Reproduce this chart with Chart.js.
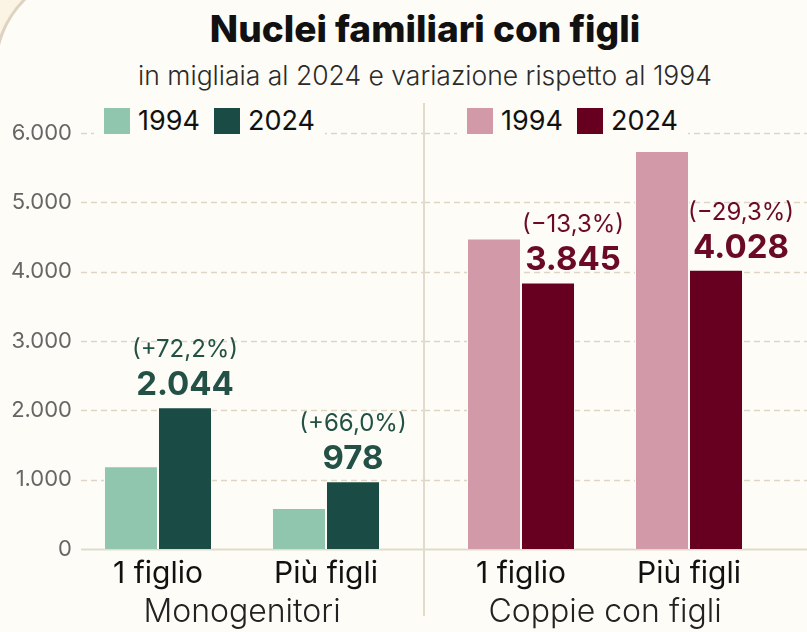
<!DOCTYPE html>
<html>
<head>
<meta charset="utf-8">
<script src="https://cdn.jsdelivr.net/npm/chart.js@4.4.1/dist/chart.umd.min.js"></script>
<style>
  body { margin: 0; width: 807px; height: 632px; overflow: hidden; position: relative; background: #fbf3e3; font-family: Inter, sans-serif; }
  #cornice { position: absolute; left: -6px; top: -30px; width: 900px; height: 700px; box-sizing: border-box; border: 3px solid #ddd3c0; border-radius: 99px 0 0 40px; background: #fdfcf7; }
  #titolo { position: absolute; left: 0; top: 6px; width: 850px; text-align: center; font-size: 37px; font-weight: 800; color: #111; }
  #sottotitolo { position: absolute; left: 0; top: 59px; width: 850px; text-align: center; font-size: 26.5px; font-weight: 300; color: #2a2a2a; }
  canvas { position: absolute; top: 0; }
  #sinistra { left: 0; }
  #destra { left: 424px; }
  #separatore { position: absolute; left: 423px; top: 103px; width: 2px; height: 513px; background: #e2dbcb; }
  .legenda { position: absolute; top: 104px; padding: 0 10px; background: #fdfcf7; display: flex; align-items: center; font-size: 27px; color: #111; }
  .legenda span.q { display: inline-block; width: 26px; height: 26px; margin-right: 8px; }
  .legenda span.t { margin-right: 14px; }
  .legenda span.t:last-child { margin-right: 0; }
</style>
</head>
<body>
<div id="cornice"></div>
<div id="titolo">Nuclei familiari con figli</div>
<div id="sottotitolo">in migliaia al 2024 e variazione rispetto al 1994</div>
<canvas id="sinistra" width="424" height="632"></canvas>
<canvas id="destra" width="383" height="632"></canvas>
<div id="separatore"></div>
<div class="legenda" id="legSinistra" style="left:94px"></div>
<div class="legenda" id="legDestra" style="left:457px"></div>
<script>
const categorie = ['1 figlio', 'Più figli'];
const anni = ['1994', '2024'];
const mono1994 = [1195, 591];
const mono2024 = [2044, 978];
const monoVariazione = ['(+72,2%)', '(+66,0%)'];
const coppie1994 = [4480, 5740];
const coppie2024 = [3845, 4028];
const coppieVariazione = ['(\u221213,3%)', '(\u221229,3%)'];
const yMax = 6000;
const yPasso = 1000;

function formatta(v) {
    return String(v).replace(/\B(?=(\d{3})+(?!\d))/g, '.');
}

const griglia = {
    id: 'griglia',
    beforeDatasetsDraw(chart, args, opts) {
        const ctx = chart.ctx;
        const y = chart.scales.y;
        ctx.save();
        y.ticks.forEach(function (t) {
            const py = Math.round(y.getPixelForValue(t.value)) + 0.5;
            ctx.beginPath();
            if (t.value === 0) {
                ctx.setLineDash([]);
                ctx.lineWidth = 2;
                ctx.strokeStyle = '#e2dbcb';
            } else {
                ctx.setLineDash([6, 4]);
                ctx.lineWidth = 1.5;
                ctx.strokeStyle = '#ddd6c5';
            }
            ctx.moveTo(opts.da, py);
            ctx.lineTo(chart.width, py);
            ctx.stroke();
        });
        ctx.restore();
    }
};

// valore in grassetto e variazione sopra la barra del 2024
const etichette = {
    id: 'etichette',
    afterDatasetsDraw(chart, args, opts) {
        const ctx = chart.ctx;
        const meta = chart.getDatasetMeta(1);
        const valori = chart.data.datasets[1].data;
        ctx.save();
        ctx.fillStyle = opts.colore;
        ctx.textAlign = 'center';
        ctx.textBaseline = 'alphabetic';
        meta.data.forEach(function (bar, i) {
            const x = bar.x + opts.dx;
            ctx.font = '700 33px Inter';
            ctx.fillText(formatta(valori[i]), x, bar.y - 12);
            ctx.font = '400 24px Inter';
            ctx.fillText(opts.variazioni[i], x, bar.y - 50);
        });
        ctx.restore();
    }
};

function creaGrafico(id, titoloAsse, dati94, dati24, colori, coloreTesto, variazioni, dx, conAsse, padding, grigliaDa) {
    const ctx = document.getElementById(id);
    return new Chart(ctx, {
        type: 'bar',
        data: {
            labels: categorie,
            datasets: [{
                label: anni[0],
                data: dati94,
                backgroundColor: colori[0],
                borderColor: '#fdfcf7',
                borderWidth: 1,
                barPercentage: 1,
                categoryPercentage: 0.643
            }, {
                label: anni[1],
                data: dati24,
                backgroundColor: colori[1],
                borderColor: '#fdfcf7',
                borderWidth: 1,
                barPercentage: 1,
                categoryPercentage: 0.643
            }]
        },
        options: {
            responsive: false,
            animation: false,
            devicePixelRatio: 1,
            layout: { padding: padding },
            plugins: {
                legend: { display: false },
                tooltip: { enabled: false },
                griglia: { da: grigliaDa },
                etichette: { colore: coloreTesto, variazioni: variazioni, dx: dx }
            },
            scales: {
                y: {
                    display: conAsse,
                    min: 0,
                    max: yMax,
                    ticks: {
                        stepSize: yPasso,
                        padding: 2,
                        color: '#666',
                        font: { family: 'Inter', size: 22 },
                        callback: function (v) { return formatta(v); }
                    },
                    grid: { display: false, drawTicks: false },
                    border: { display: false },
                    afterFit: function (s) { s.width = conAsse ? 74 : 0; }
                },
                x: {
                    grid: { display: false, drawTicks: false },
                    border: { display: false },
                    ticks: {
                        padding: 7,
                        color: '#111',
                        font: { family: 'Inter', size: 30 }
                    },
                    title: {
                        display: true,
                        text: titoloAsse,
                        color: '#222',
                        font: { family: 'Inter', size: 32, weight: 300 },
                        padding: { top: 0, bottom: 0 }
                    },
                    afterFit: function (s) { s.height = 83; }
                }
            }
        },
        plugins: [griglia, etichette]
    });
}

function legenda(chart, id) {
    const box = document.getElementById(id);
    chart.data.datasets.forEach(function (ds) {
        const q = document.createElement('span');
        q.className = 'q';
        q.style.background = ds.backgroundColor;
        const t = document.createElement('span');
        t.className = 't';
        t.textContent = ds.label;
        box.appendChild(q);
        box.appendChild(t);
    });
}

const graficoMono = creaGrafico('sinistra', 'Monogenitori', mono1994, mono2024,
    ['#8fc6ad', '#1a4c45'], '#235146', monoVariazione, 0, true,
    { top: 133, right: 14, left: 0, bottom: 0 }, 81);
const graficoCoppie = creaGrafico('destra', 'Coppie con figli', coppie1994, coppie2024,
    ['#d29aa8', '#670020'], '#6a0a26', coppieVariazione, 25, false,
    { top: 133, right: 34, left: 13, bottom: 0 }, 0);

legenda(graficoMono, 'legSinistra');
legenda(graficoCoppie, 'legDestra');
</script>
</body>
</html>
